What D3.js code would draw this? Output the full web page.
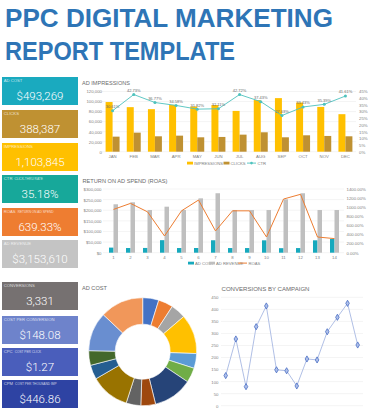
<!DOCTYPE html>
<html>
<head>
<meta charset="utf-8">
<script src="https://cdn.jsdelivr.net/npm/d3@7"></script>
<style>
  body { margin: 0; background: #fff; }
  svg { display: block; }
</style>
</head>
<body>
<div id="chart"></div>
<script>
// ---- data ----
const months = ['JAN','FEB','MAR','APR','MAY','JUN','JUL','AUG','SEP','OCT','NOV','DEC'];
const impressions = [99000, 88800, 84800, 93300, 90000, 93000, 81300, 103000, 106800, 98000, 89300, 74800];
const clicks = [30000, 38000, 30700, 32000, 28700, 29400, 34000, 38700, 28700, 32700, 31400, 30700];
const ctr = [30.61, 42.73, 36.77, 34.58, 31.82, 32.11, 42.72, 37.43, 27.03, 33.43, 35.39, 41.61];

const campaigns = ['1','2','3','4','5','6','7','8','9','10','11','12','13','14'];
const adCost = [24000, 22000, 22400, 59000, 22000, 22100, 58600, 21900, 21900, 58300, 21300, 21800, 58300, 64800];
const adRevenue = [228000, 237400, 201000, 216700, 201000, 256000, 280000, 201000, 201000, 201000, 251500, 280000, 201000, 201000];
const roas = [951, 1084, 898, 367, 920, 1157, 478, 920, 920, 345, 1179, 1283, 345, 310];
const conversions = [125, 277, 79, 328, 414, 149, 145, 82, 194, 190, 307, 367, 425, 252];

const impTicks = [0, 20000, 40000, 60000, 80000, 100000, 120000];
const ctrTicks = [0, 5, 10, 15, 20, 25, 30, 35, 40, 45];
const revTicks = [0, 50000, 100000, 150000, 200000, 250000, 300000];
const roasTicks = [0, 200, 400, 600, 800, 1000, 1200, 1400];
const convTicks = [0, 50, 100, 150, 200, 250, 300, 350, 400, 450];

const kpiNames = ['AD COST','CLICKS','IMPRESSIONS','CTR','ROAS','AD REVENUE','CONVERSIONS','COST PER CONVERSION','CPC','CPM'];
const kpiNotes = ['','','','CLICK-THRU RATE','RETURN ON AD SPEND','','','','COST PER CLICK','COST PER THOUSAND IMP'];
const kpiValues = ['$493,269','388,387','1,103,845','35.18%','639.33%','$3,153,610','3,331','$148.08','$1.27','$446.86'];

// ---- style ----
const width = 375;
const height = 412;
const titleColor = '#2E75B6';
const labelColor = '#808080';
const headColor = '#6b6b6b';
const gridColor = '#E8E8E8';
const tickFont = '4.3px';
const font = 'Liberation Sans, Arial, sans-serif';
const kpiFill = ['#1AAABF','#BF9132','#FFC000','#17A89A','#EE7D31','#C4C4C4','#767171','#6E83CB','#4A5EBB','#2E43A3'];
const kpiTop = [77, 110, 143, 175, 208, 240, 282, 316, 348, 380];
const impColor = '#FFC000';
const clickColor = '#BF9132';
const ctrColor = '#4EC2BD';
const costColor = '#17A9BD';
const revColor = '#BFBFBF';
const roasColor = '#ED7D31';
const pieColors = ['#4472C4','#ED7D31','#A5A5A5','#FFC000','#5B9BD5','#70AD47','#264478','#9E480E','#636363','#997300','#255E91','#43682B','#698ED0','#F1975A'];

const svg = d3.select('#chart').append('svg')
  .attr('width', width)
  .attr('height', height)
  .style('font-family', font);

svg.append('rect').attr('width', width).attr('height', height).attr('fill', '#fff');

// ---- title ----
svg.append('text')
  .attr('x', 5).attr('y', 26.5)
  .attr('textLength', 328).attr('lengthAdjust', 'spacingAndGlyphs')
  .style('font-size', '26px').style('font-weight', 'bold')
  .attr('fill', titleColor)
  .text('PPC DIGITAL MARKETING');
svg.append('text')
  .attr('x', 5).attr('y', 59.5)
  .attr('textLength', 230).attr('lengthAdjust', 'spacingAndGlyphs')
  .style('font-size', '26px').style('font-weight', 'bold')
  .attr('fill', titleColor)
  .text('REPORT TEMPLATE');

// ---- KPI boxes ----
const kpi = svg.selectAll('.kpi')
  .data(kpiNames)
  .enter()
  .append('g')
  .attr('class', 'kpi')
  .attr('transform', (d, i) => `translate(2,${kpiTop[i]})`);

kpi.append('rect')
  .attr('width', 76).attr('height', 28)
  .attr('fill', (d, i) => kpiFill[i]);

kpi.append('text')
  .attr('x', 1.8).attr('y', 5.4)
  .attr('fill', '#fff').attr('fill-opacity', 0.75)
  .style('font-size', '4.2px')
  .text(d => d)
  .append('tspan')
  .attr('dx', 2)
  .style('font-size', '3.2px')
  .text((d, i) => kpiNotes[i]);

kpi.append('text')
  .attr('x', 38).attr('y', 23)
  .attr('text-anchor', 'middle')
  .attr('fill', '#fff')
  .style('font-family', 'Roboto, Lato, sans-serif')
  .style('font-weight', 300)
  .style('font-size', '11.5px')
  .text((d, i) => kpiValues[i]);

// chart headings
const heading = (x, y, len, txt) => {
  svg.append('text')
    .attr('x', x).attr('y', y)
    .attr('textLength', len).attr('lengthAdjust', 'spacingAndGlyphs')
    .style('font-size', '6.2px')
    .attr('fill', headColor)
    .text(txt);
};

const styleAxis = (sel) => {
  sel.call(g => g.select('.domain').remove())
    .call(g => g.selectAll('.tick text')
      .attr('fill', labelColor)
      .style('font-size', tickFont)
      .style('font-family', font));
};

const grid = (vals, scale, x1, x2) => {
  svg.append('g').selectAll('line')
    .data(vals)
    .enter()
    .append('line')
    .attr('x1', x1).attr('x2', x2)
    .attr('y1', d => scale(d)).attr('y2', d => scale(d))
    .attr('stroke', gridColor)
    .attr('stroke-width', 0.5);
};

// ---- AD IMPRESSIONS ----
heading(82, 84.5, 48, 'AD IMPRESSIONS');

const xMonth = d3.scaleBand()
  .domain(months)
  .range([102, 356])
  .paddingInner(0.34)
  .paddingOuter(0.17);
const yImp = d3.scaleLinear().domain([0, 120000]).range([151.7, 91.5]);
const yCtr = d3.scaleLinear().domain([0, 45]).range([151.7, 91.5]);

grid(impTicks, yImp, 102, 356);

const bw = xMonth.bandwidth() / 2;

svg.append('g').selectAll('rect')
  .data(months)
  .enter()
  .append('rect')
  .attr('x', d => xMonth(d))
  .attr('y', (d, i) => yImp(impressions[i]))
  .attr('width', bw)
  .attr('height', (d, i) => yImp(0) - yImp(impressions[i]))
  .attr('fill', impColor);

svg.append('g').selectAll('rect')
  .data(months)
  .enter()
  .append('rect')
  .attr('x', d => xMonth(d) + bw)
  .attr('y', (d, i) => yImp(clicks[i]))
  .attr('width', bw)
  .attr('height', (d, i) => yImp(0) - yImp(clicks[i]))
  .attr('fill', clickColor);

const ctrLine = d3.line()
  .x((d, i) => xMonth(months[i]) + bw)
  .y(d => yCtr(d));

svg.append('path')
  .datum(ctr)
  .attr('d', ctrLine)
  .attr('fill', 'none')
  .attr('stroke', ctrColor)
  .attr('stroke-width', 0.9);

svg.append('g').selectAll('circle')
  .data(ctr)
  .enter()
  .append('circle')
  .attr('cx', (d, i) => xMonth(months[i]) + bw)
  .attr('cy', d => yCtr(d))
  .attr('r', 1.5)
  .attr('fill', ctrColor);

svg.append('g').selectAll('text')
  .data(ctr)
  .enter()
  .append('text')
  .attr('x', (d, i) => xMonth(months[i]) + bw)
  .attr('y', d => yCtr(d) - 2.6)
  .attr('text-anchor', 'middle')
  .attr('fill', '#6b6b6b')
  .style('font-size', '4px')
  .text(d => d.toFixed(2) + '%');

svg.append('g')
  .attr('transform', 'translate(104,0)')
  .call(d3.axisLeft(yImp).tickValues(impTicks).tickSize(0).tickPadding(2).tickFormat(d3.format(',')))
  .call(styleAxis);

svg.append('g')
  .attr('transform', 'translate(357,0)')
  .call(d3.axisRight(yCtr).tickValues(ctrTicks).tickSize(0).tickPadding(2).tickFormat(d => d + '%'))
  .call(styleAxis);

svg.append('g')
  .attr('transform', 'translate(0,151.7)')
  .call(d3.axisBottom(xMonth).tickSize(0).tickPadding(3))
  .call(styleAxis);

// legend
const legend1 = svg.append('g').attr('transform', 'translate(0,164.5)');
legend1.append('rect').attr('x', 187).attr('y', -2.8).attr('width', 6).attr('height', 2.8).attr('fill', impColor);
legend1.append('text').attr('x', 194).attr('y', 0).attr('fill', labelColor).style('font-size', '4.2px').text('IMPRESSIONS');
legend1.append('rect').attr('x', 223.5).attr('y', -2.8).attr('width', 6).attr('height', 2.8).attr('fill', clickColor);
legend1.append('text').attr('x', 230.5).attr('y', 0).attr('fill', labelColor).style('font-size', '4.2px').text('CLICKS');
legend1.append('line').attr('x1', 247).attr('x2', 256).attr('y1', -1.4).attr('y2', -1.4).attr('stroke', ctrColor).attr('stroke-width', 0.9);
legend1.append('circle').attr('cx', 251.5).attr('cy', -1.4).attr('r', 1.3).attr('fill', ctrColor);
legend1.append('text').attr('x', 257.5).attr('y', 0).attr('fill', labelColor).style('font-size', '4.2px').text('CTR');

// ---- RETURN ON AD SPEND ----
heading(82.5, 182.5, 85, 'RETURN ON AD SPEND (ROAS)');

const xCamp = d3.scaleBand()
  .domain(campaigns)
  .range([105, 343])
  .paddingInner(0.47)
  .paddingOuter(0.235);
const yRev = d3.scaleLinear().domain([0, 300000]).range([252.7, 189]);
const yRoas = d3.scaleLinear().domain([0, 1400]).range([252.7, 189]);

grid(revTicks, yRev, 103, 344);

const cw = xCamp.bandwidth() / 2;

svg.append('g').selectAll('rect')
  .data(campaigns)
  .enter()
  .append('rect')
  .attr('x', d => xCamp(d))
  .attr('y', (d, i) => yRev(adCost[i]))
  .attr('width', cw)
  .attr('height', (d, i) => yRev(0) - yRev(adCost[i]))
  .attr('fill', costColor);

svg.append('g').selectAll('rect')
  .data(campaigns)
  .enter()
  .append('rect')
  .attr('x', d => xCamp(d) + cw)
  .attr('y', (d, i) => yRev(adRevenue[i]))
  .attr('width', cw)
  .attr('height', (d, i) => yRev(0) - yRev(adRevenue[i]))
  .attr('fill', revColor);

const roasLine = d3.line()
  .x((d, i) => xCamp(campaigns[i]) + cw)
  .y(d => yRoas(d));

svg.append('path')
  .datum(roas)
  .attr('d', roasLine)
  .attr('fill', 'none')
  .attr('stroke', roasColor)
  .attr('stroke-width', 1);

svg.append('g')
  .attr('transform', 'translate(103.5,0)')
  .call(d3.axisLeft(yRev).tickValues(revTicks).tickSize(0).tickPadding(2).tickFormat(d => '$' + d3.format(',')(d)))
  .call(styleAxis);

svg.append('g')
  .attr('transform', 'translate(345,0)')
  .call(d3.axisRight(yRoas).tickValues(roasTicks).tickSize(0).tickPadding(1.5).tickFormat(d => d.toFixed(2) + '%'))
  .call(styleAxis);

svg.append('g')
  .attr('transform', 'translate(0,252.7)')
  .call(d3.axisBottom(xCamp).tickSize(0).tickPadding(3.5))
  .call(styleAxis);

const legend2 = svg.append('g').attr('transform', 'translate(0,264.5)');
legend2.append('rect').attr('x', 188).attr('y', -2.8).attr('width', 6).attr('height', 2.8).attr('fill', costColor);
legend2.append('text').attr('x', 195).attr('y', 0).attr('fill', labelColor).style('font-size', '4.2px').text('AD COST');
legend2.append('rect').attr('x', 209).attr('y', -2.8).attr('width', 6).attr('height', 2.8).attr('fill', revColor);
legend2.append('text').attr('x', 216).attr('y', 0).attr('fill', labelColor).style('font-size', '4.2px').text('AD REVENUE');
legend2.append('line').attr('x1', 238).attr('x2', 247).attr('y1', -1.4).attr('y2', -1.4).attr('stroke', roasColor).attr('stroke-width', 1);
legend2.append('text').attr('x', 248.5).attr('y', 0).attr('fill', labelColor).style('font-size', '4.2px').text('ROAS');

// ---- AD COST donut ----
heading(82, 289.5, 25, 'AD COST');

const pie = d3.pie().sort(null).value(d => d);
const arc = d3.arc().innerRadius(27.5).outerRadius(54);

svg.append('g')
  .attr('transform', 'translate(142.7,351.7)')
  .selectAll('path')
  .data(pie(adCost))
  .enter()
  .append('path')
  .attr('d', arc)
  .attr('fill', (d, i) => pieColors[i])
  .attr('stroke', '#fff')
  .attr('stroke-width', 0.6);

// ---- CONVERSIONS BY CAMPAIGN ----
heading(221.5, 290.5, 88, 'CONVERSIONS BY CAMPAIGN');

const xConv = d3.scalePoint().domain(campaigns).range([225.7, 357.7]);
const yConv = d3.scaleLinear().domain([0, 450]).range([405.7, 297.3]);

grid(convTicks, yConv, 221, 363);

const convLine = d3.line()
  .x((d, i) => xConv(campaigns[i]))
  .y(d => yConv(d));

svg.append('path')
  .datum(conversions)
  .attr('d', convLine)
  .attr('fill', 'none')
  .attr('stroke', '#A7B8E2')
  .attr('stroke-width', 0.9);

svg.append('g').selectAll('path')
  .data(conversions)
  .enter()
  .append('path')
  .attr('transform', (d, i) => `translate(${xConv(campaigns[i])},${yConv(d)})`)
  .attr('d', d3.symbol().type(d3.symbolDiamond).size(11))
  .attr('fill', '#AFC0EA')
  .attr('stroke', '#4A6FC4')
  .attr('stroke-width', 0.8);

svg.append('g')
  .attr('transform', 'translate(220,0)')
  .call(d3.axisLeft(yConv).tickValues(convTicks).tickSize(0).tickPadding(1.5))
  .call(styleAxis);
</script>
</body>
</html>
